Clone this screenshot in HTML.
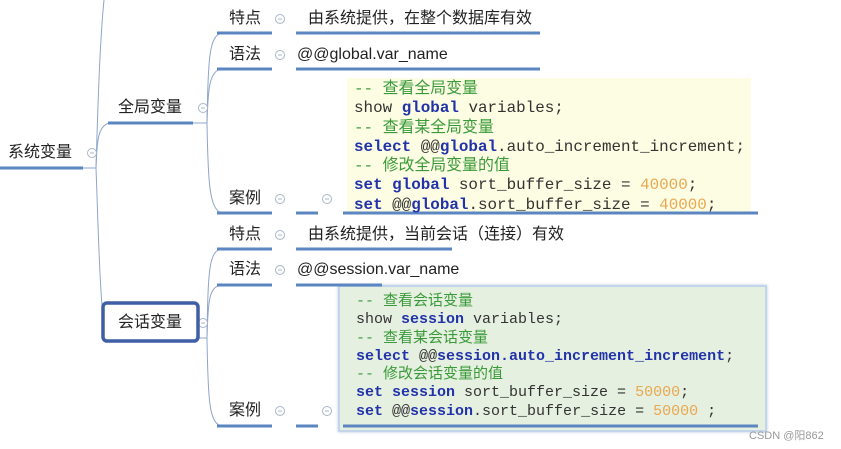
<!DOCTYPE html>
<html><head><meta charset="utf-8"><style>
body{margin:0;width:841px;height:449px;background:#fff;position:relative;overflow:hidden;font-family:"Liberation Sans","Noto Sans CJK SC",sans-serif;}
.t{position:absolute;font-size:16px;color:#222;white-space:nowrap;line-height:20px;}
.code{position:absolute;font-family:"Liberation Mono","Noto Sans CJK SC",monospace;white-space:pre;color:#333;}
.c{color:#3a9a3a;} .k{color:#2233aa;font-weight:bold;} .n{color:#e8a850;}
svg{position:absolute;left:0;top:0;}
</style></head><body>
<div style="position:absolute;left:347px;top:78px;width:404px;height:134px;background:#fdfde3;"></div>
<div style="position:absolute;left:338px;top:285px;width:425px;height:143px;background:#e6f0e0;border:2px solid #c3d5ea;box-shadow:0 0 3px #b8c8de;"></div>
<svg width="841" height="449">
<g fill="none" stroke="#8ea6cc" stroke-width="1">
<path d="M0 168 H96"/>
<path d="M96 168 C98 100 100 40 104 0"/>
<path d="M96 168 C97 140 98 125 110 123"/>
<path d="M96 168 C98 220 99 270 102 305"/>
<path d="M193 123 H207"/>
<path d="M207 123 C208 60 209 35 222 33"/>
<path d="M207 123 C208 90 209 70 222 69"/>
<path d="M207 123 C208 180 209 210 222 213"/>
<path d="M198 338 H207"/>
<path d="M207 338 C208 270 209 250 222 249"/>
<path d="M207 338 C208 300 209 286 222 285"/>
<path d="M207 338 C208 400 209 424 222 426"/>
</g>
<g stroke="#5b86c2" stroke-width="3">
<path d="M0 168 H83"/>
<path d="M108 123 H193"/>
<path d="M217 33 H272 M296 33 H540"/>
<path d="M217 69 H272 M296 69 H540"/>
<path d="M217 213 H272 M296 213 H318 M343 213 H758"/>
<path d="M217 249 H272 M296 249 H452"/>
<path d="M217 285 H272 M296 285 H382"/>
<path d="M217 426 H272 M296 426 H318 M343 426 H758"/>
</g>
<g fill="#fff" stroke="#aab6c6" stroke-width="1">
<circle cx="92" cy="153" r="4.5"/><circle cx="203" cy="108" r="4.5"/>
<circle cx="280" cy="19" r="4.5"/><circle cx="280" cy="55" r="4.5"/><circle cx="280" cy="199" r="4.5"/><circle cx="327" cy="199" r="4.5"/>
<circle cx="203" cy="323" r="4.5"/>
<circle cx="280" cy="235" r="4.5"/><circle cx="280" cy="270" r="4.5"/><circle cx="280" cy="411" r="4.5"/><circle cx="327" cy="411" r="4.5"/>
</g>
<g stroke="#aab6c6" stroke-width="1">
<path d="M90 153h4M201 108h4M278 19h4M278 55h4M278 199h4M325 199h4M201 323h4M278 235h4M278 270h4M278 411h4M325 411h4"/>
</g>
<rect x="103" y="303" width="95" height="38" rx="4" fill="#fff" stroke="#3e5fa6" stroke-width="3.5"/>
</svg>
<div class="t" style="left:8px;top:143px">系统变量</div>
<div class="t" style="left:118px;top:98px">全局变量</div>
<div class="t" style="left:229px;top:9px">特点</div>
<div class="t" style="left:308px;top:9px">由系统提供，在整个数据库有效</div>
<div class="t" style="left:229px;top:45px">语法</div>
<div class="t" style="left:297px;top:45px;font-size:16px">@@global.var_name</div>
<div class="t" style="left:229px;top:189px">案例</div>
<div class="code" style="left:354px;top:80px;font-size:15.9px;line-height:19.3px"><span class="c">-- 查看全局变量</span>
show <span class="k">global</span> variables;
<span class="c">-- 查看某全局变量</span>
<span class="k">select</span> @@<span class="k">global</span>.auto_increment_increment;
<span class="c">-- 修改全局变量的值</span>
<span class="k">set global</span> sort_buffer_size = <span class="n">40000</span>;
<span class="k">set</span> @@<span class="k">global</span>.sort_buffer_size = <span class="n">40000</span>;</div>
<div class="t" style="left:118px;top:313px">会话变量</div>
<div class="t" style="left:229px;top:225px">特点</div>
<div class="t" style="left:308px;top:225px">由系统提供，当前会话（连接）有效</div>
<div class="t" style="left:229px;top:260px">语法</div>
<div class="t" style="left:297px;top:260px;font-size:16px">@@session.var_name</div>
<div class="t" style="left:229px;top:401px">案例</div>
<div class="code" style="left:356px;top:293px;font-size:15px;line-height:18.3px"><span class="c">-- 查看会话变量</span>
show <span class="k">session</span> variables;
<span class="c">-- 查看某会话变量</span>
<span class="k">select</span> @@<span class="k">session.auto_increment_increment</span>;
<span class="c">-- 修改会话变量的值</span>
<span class="k">set session</span> sort_buffer_size = <span class="n">50000</span>;
<span class="k">set</span> @@<span class="k">session</span>.sort_buffer_size = <span class="n">50000</span> ;</div>
<div class="t" style="left:749px;top:426px;font-size:11px;color:#999">CSDN @阳862</div>
</body></html>
